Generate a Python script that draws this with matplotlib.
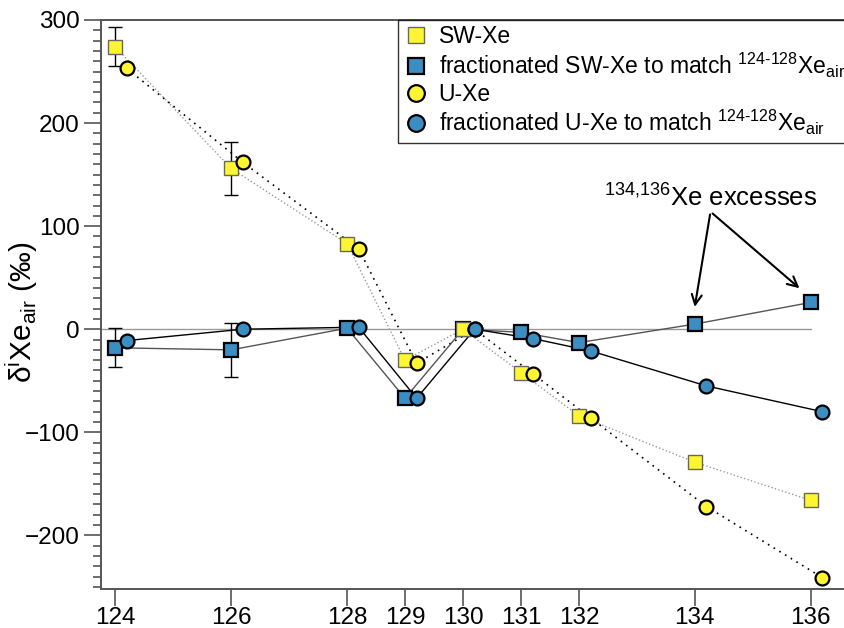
import matplotlib
matplotlib.use("Agg")
import matplotlib.pyplot as plt
from matplotlib.ticker import MultipleLocator
import numpy as np

plt.rcParams["font.family"] = ["Liberation Sans", "DejaVu Sans"]
plt.rcParams["mathtext.fontset"] = "custom"
plt.rcParams["mathtext.rm"] = "Liberation Sans"
plt.rcParams["mathtext.it"] = "Liberation Sans:italic"
plt.rcParams["mathtext.default"] = "regular"

masses = np.array([124, 126, 128, 129, 130, 131, 132, 134, 136])
tick_labels = ["124", "126", "128", "129", "130", "131", "132", "134", "136"]

sw_xe = [274, 156, 83, -30, 0, -42, -84, -129, -166]
u_xe = [253, 162, 78, -33, 0, -43, -86, -172, -241]
frac_sw_xe = [-18, -20, 1, -67, 0, -3, -13, 5, 26]
frac_u_xe = [-11, 0, 2, -67, 0, -9, -21, -55, -80]

# 1 sigma uncertainties, only given for 124 and 126
err_masses = [124, 126]
err_sw = [19, 26]
err_frac = [19, 26]

yellow = "#fff533"
blue = "#3b8dc2"
shift = 0.2  # circles drawn just right of the squares

fig = plt.figure(figsize=(8.45, 6.28), dpi=100)
ax = fig.add_axes([0.1192, 0.0621, 0.8808, 0.9061])

ax.plot([123.75, 136], [0, 0], color="#999999", lw=1.0, zorder=1)

ax.plot(masses, sw_xe, ls=(0, (1, 1.6)), color="#9a9a9a", lw=1.0, zorder=2)
ax.plot(masses + shift, u_xe, ls=(0, (1, 3)), color="black", lw=1.2, zorder=2)
ax.plot(masses, frac_sw_xe, color="#555555", lw=1.0, zorder=2)
ax.plot(masses + shift, frac_u_xe, color="black", lw=1.0, zorder=2)

ax.errorbar(err_masses, sw_xe[:2], yerr=err_sw, fmt="none", ecolor="black",
            elinewidth=1.0, capsize=5, capthick=1.0, zorder=3)
ax.errorbar(err_masses, frac_sw_xe[:2], yerr=err_frac, fmt="none", ecolor="black",
            elinewidth=1.0, capsize=5, capthick=1.0, zorder=3)

ax.plot(masses, frac_sw_xe, ls="none", marker="s", ms=9.5, mfc=blue, mec="black",
        mew=1.6, zorder=4, label="fractionated SW-Xe to match $^{124\\text{-}128}$Xe$_{air}$")
ax.plot(masses, sw_xe, ls="none", marker="s", ms=9.5, mfc=yellow, mec="#666666",
        mew=1.0, zorder=5, label="SW-Xe")
ax.plot(masses + shift, u_xe, ls="none", marker="o", ms=10, mfc=yellow, mec="black",
        mew=1.6, zorder=6, label="U-Xe")
ax.plot(masses + shift, frac_u_xe, ls="none", marker="o", ms=10, mfc=blue, mec="black",
        mew=1.6, zorder=7, label="fractionated U-Xe to match $^{124\\text{-}128}$Xe$_{air}$")

ax.set_xlim(123.75, 136.59)
ax.set_ylim(-252, 300)
ax.set_xticks(masses)
ax.set_xticklabels(tick_labels)
ax.yaxis.set_major_locator(MultipleLocator(100))
ax.yaxis.set_minor_locator(MultipleLocator(10))
ax.tick_params(axis="both", which="major", direction="out", length=12, width=1.2,
               color="#555555", labelsize=17.5, pad=3)
ax.tick_params(axis="x", which="major", pad=1)
ax.tick_params(axis="y", which="minor", direction="out", length=6, width=1.2, color="#555555")
ax.tick_params(axis="x", which="minor", bottom=False)

for side in ["left", "bottom", "top"]:
    ax.spines[side].set_color("#555555")
    ax.spines[side].set_linewidth(1.4)
ax.spines["right"].set_visible(False)

ax.set_ylabel("δ$^{i}$Xe$_{air}$ (‰)", fontsize=21.5)
ax.yaxis.set_label_coords(-0.082, 0.487)

handles, labels = ax.get_legend_handles_labels()
order = [1, 0, 2, 3]
leg = ax.legend([handles[i] for i in order], [labels[i] for i in order],
                loc="upper left", bbox_to_anchor=(398 / 845, 1 - 20 / 628),
                bbox_transform=fig.transFigure, fontsize=16.5, frameon=True,
                fancybox=False, edgecolor="black", borderaxespad=0,
                handlelength=1.15, handletextpad=0.4, labelspacing=0.12,
                borderpad=0.22, markerscale=1.2)
leg.get_frame().set_linewidth(1.0)

# annotation for the heavy isotope excesses
ax.text(134.27, 127, "$^{134{,}136}$Xe excesses", fontsize=18.5, ha="center", va="center")
for tip in [(133.99, 19), (135.84, 38)]:
    ax.annotate("", xy=tip, xytext=(134.27, 114),
                arrowprops=dict(arrowstyle="->", color="black", lw=1.5,
                                mutation_scale=18))

fig.savefig("out.png", dpi=100)
